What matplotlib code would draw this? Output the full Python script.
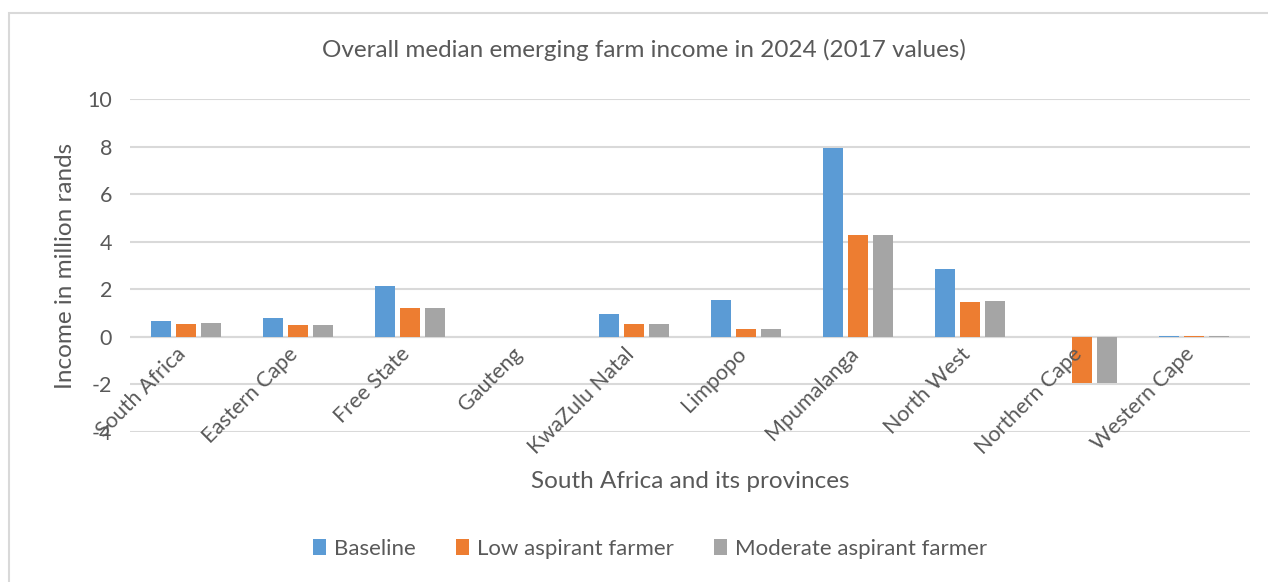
import matplotlib.pyplot as plt
import matplotlib.patches as mpatches
import numpy as np

plt.rcParams['font.family'] = ['Lato', 'DejaVu Sans']
plt.rcParams['axes.unicode_minus'] = False

# Median emerging farm income per region, million rands (2017 values)
regioes = ['South Africa', 'Eastern Cape', 'Free State', 'Gauteng', 'KwaZulu Natal',
           'Limpopo', 'Mpumalanga', 'North West', 'Northern Cape', 'Western Cape']
baseline = [0.67, 0.80, 2.14, 0.0, 0.97, 1.54, 7.93, 2.86, 0.0, 0.05]
low_aspirant = [0.55, 0.48, 1.23, 0.0, 0.52, 0.32, 4.27, 1.47, -1.96, 0.04]
moderate_aspirant = [0.57, 0.48, 1.23, 0.0, 0.52, 0.32, 4.27, 1.51, -1.96, 0.05]

series = [('Baseline', baseline, '#5b9bd5'),
          ('Low aspirant farmer', low_aspirant, '#ed7d31'),
          ('Moderate aspirant farmer', moderate_aspirant, '#a5a5a5')]

texto = '#595959'
grade = '#d9d9d9'

fig = plt.figure(figsize=(12.68, 5.82), dpi=100)
ax = fig.add_axes([130 / 1268, 1 - 432 / 582, 1120 / 1268, 333 / 582])

x = np.arange(len(regioes))
largura = 0.175
passo = 0.222
for i, (nome, valores, cor) in enumerate(series):
    ax.bar(x + (i - 1) * passo, valores, largura, color=cor, label=nome, zorder=3)

ax.set_xlim(-0.5, len(regioes) - 0.5)
ax.set_ylim(-4, 10)
ax.set_yticks(np.arange(-4, 11, 2))
ax.yaxis.grid(True, color=grade, linewidth=1.5, zorder=0)
ax.axhline(0, color=grade, linewidth=1.5, zorder=2)
for s in ax.spines.values():
    s.set_visible(False)
ax.tick_params(axis='both', length=0, labelsize=15.5, colors=texto)
ax.tick_params(axis='y', pad=13)
ax.set_xticks([])

# category labels sit just under the zero line, rotated 45 degrees
for xi, nome in zip(x, regioes):
    ax.text(xi - 0.09, -0.3, nome, rotation=45, ha='right', va='top',
            rotation_mode='anchor', fontsize=15.5, color=texto)

ax.set_ylabel('Income in million rands', fontsize=17.5, color=texto, labelpad=8)
fig.text(690 / 1268, 1 - 481 / 582, 'South Africa and its provinces',
         ha='center', va='center', fontsize=17.5, color=texto)
fig.text(644 / 1268, 1 - 50 / 582,
         'Overall median emerging farm income in 2024 (2017 values)',
         ha='center', va='center', fontsize=17.5, color=texto)

fig.legend(loc='center', bbox_to_anchor=(650 / 1268, 1 - 549 / 582), ncol=3,
           frameon=False, fontsize=16, labelcolor=texto, handlelength=0.6,
           handleheight=0.75, handletextpad=0.35, columnspacing=1.8)

# light frame around the chart
fig.patches.append(mpatches.Rectangle((8.5 / 1268, -0.05), 1.1, 1.05 - 12.5 / 582,
                                      transform=fig.transFigure, fill=False,
                                      edgecolor=grade, linewidth=1.5))

fig.savefig('out.png', dpi=100)
